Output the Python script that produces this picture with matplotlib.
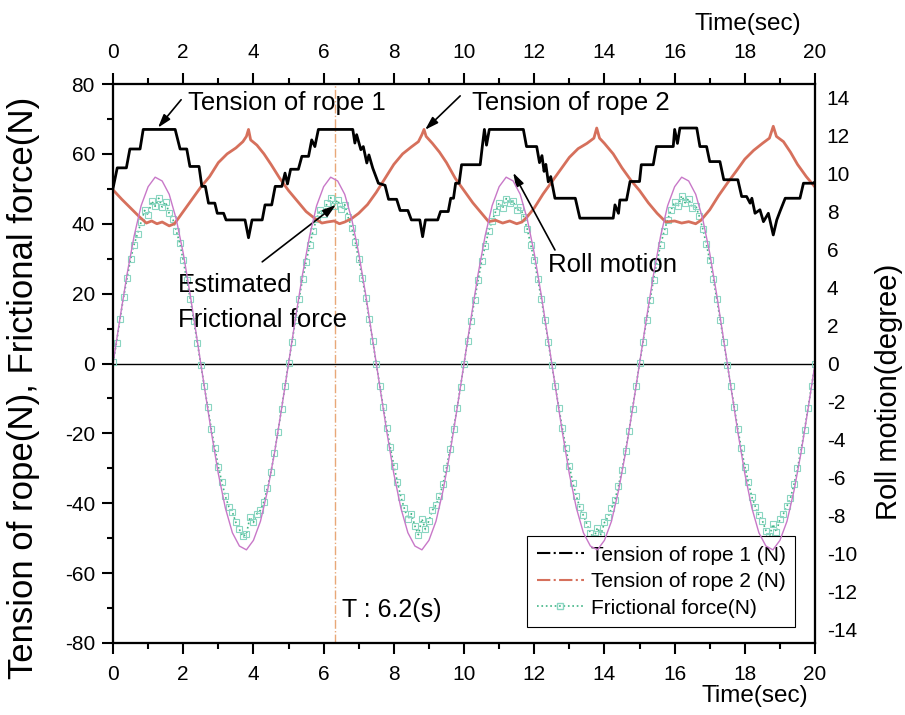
import matplotlib
matplotlib.use("Agg")
import matplotlib.pyplot as plt
from matplotlib.lines import Line2D
from matplotlib.ticker import MultipleLocator

plt.rcParams['font.family'] = ['Liberation Sans', 'DejaVu Sans']
plt.rcParams['axes.unicode_minus'] = False

# Tension of rope 1 (N) - stepped signal, breakpoints
t_rope1 = [0.00, 0.12, 0.38, 0.48, 0.77, 0.86, 1.77, 1.91, 2.10, 2.19, 2.45, 2.53, 2.63, 2.72, 2.90,
           2.97, 3.15, 3.22, 3.76, 3.86, 3.96, 4.25, 4.33, 4.52, 4.62, 4.81, 4.90, 4.97, 5.06, 5.28,
           5.38, 5.57, 5.66, 5.75, 5.85,
           6.83, 6.89, 6.94, 7.06, 7.13, 7.23, 7.29, 7.40, 7.56, 7.75, 7.85, 8.08, 8.18, 8.40, 8.50,
           8.74, 8.82, 8.90, 9.25, 9.33, 9.55, 9.62, 9.70, 9.76, 9.86, 9.93, 10.46, 10.52, 10.58,
           10.64, 10.72,
           11.69, 11.78, 12.07, 12.15, 12.22, 12.28, 12.33, 12.40, 12.47, 12.59, 13.17, 13.30, 14.25,
           14.30, 14.40, 14.44, 14.63, 14.73, 15.00, 15.05, 15.39, 15.48, 15.96, 16.00, 16.08, 16.15,
           16.63, 16.72, 16.91, 17.00, 17.29, 17.40, 17.80, 17.91, 18.05, 18.15, 18.20, 18.29, 18.43,
           18.53, 18.67, 18.81, 18.91, 19.00, 19.15, 19.57, 19.67, 19.95, 20.00]
rope1 = [50.2, 56.0, 56.0, 61.4, 61.4, 67.0, 67.0, 61.4, 61.4, 56.4, 56.4, 50.7, 50.7, 45.9, 45.9,
         43.0, 43.0, 41.1, 41.1, 36.0, 41.1, 41.1, 45.4, 45.4, 50.7, 50.7, 54.5, 51.4, 55.6, 55.6,
         59.3, 59.3, 64.0, 62.1, 67.0,
         67.0, 63.1, 65.5, 61.2, 62.1, 57.4, 59.7, 55.9, 51.6, 51.0, 47.0, 47.0, 43.8, 43.8, 41.1,
         41.1, 36.3, 41.1, 41.1, 43.5, 43.5, 47.3, 47.3, 51.6, 51.6, 56.9, 56.9, 62.1, 67.0,
         62.5, 67.0,
         67.0, 62.1, 62.1, 57.5, 59.5, 55.0, 57.0, 52.0, 53.5, 47.3, 47.3, 41.6, 41.6,
         45.4, 43.0, 46.8, 46.8, 52.1, 52.1, 56.9, 56.9, 62.1, 62.1, 67.0, 63.0, 67.4,
         67.4, 62.1, 62.1, 57.8, 57.8, 52.6, 52.6, 47.8, 47.8, 45.9, 47.3, 43.0, 44.0,
         40.6, 43.0, 36.8, 41.1, 43.5, 47.3, 47.3, 51.6, 51.6, 52.0]

# Tension of rope 2 (N)
t_rope2 = [0.0, 0.25, 0.5, 0.75, 0.95, 1.1, 1.25, 1.4, 1.6, 1.75, 2.0, 2.25, 2.5, 2.75, 3.0, 3.25,
           3.5, 3.7, 3.8, 3.86, 3.92, 4.1, 4.3, 4.5, 4.75, 5.0, 5.25, 5.5, 5.75, 5.95, 6.1, 6.3,
           6.45, 6.6, 6.8, 7.0, 7.25, 7.5, 7.75, 8.0, 8.25, 8.5, 8.7, 8.8, 8.86, 8.92, 9.1, 9.3,
           9.5, 9.75, 10.0, 10.25, 10.5, 10.7, 10.9, 11.1, 11.3, 11.5, 11.65, 11.8, 12.0, 12.25,
           12.5, 12.75, 13.0, 13.25, 13.5, 13.7, 13.78, 13.86, 14.0, 14.25, 14.5, 14.75, 15.0,
           15.25, 15.5, 15.75, 16.0, 16.2, 16.4, 16.6, 16.75, 17.0, 17.25, 17.5, 17.75, 18.0,
           18.25, 18.5, 18.7, 18.81, 18.9, 19.1, 19.3, 19.5, 19.75, 20.0]
rope2 = [49.7, 47.0, 44.5, 42.0, 40.2, 40.8, 40.0, 40.5, 39.4, 40.0, 43.5, 47.0, 50.5, 53.5, 57.5, 60.0,
         61.7, 63.5, 65.0, 67.0, 64.0, 62.5, 60.0, 57.0, 53.0, 49.5, 46.5, 43.5, 41.5, 40.2, 40.5, 40.8,
         40.0, 40.5, 41.5, 43.0, 45.5, 49.0, 53.0, 57.0, 60.0, 62.0, 63.5, 65.5, 67.0, 65.0, 63.0, 60.5,
         57.5, 53.0, 49.5, 46.0, 43.0, 40.6, 41.0, 40.2, 40.8, 40.0, 40.5, 42.0, 44.5, 48.5,
         52.0, 55.5, 59.0, 61.5, 63.0, 64.5, 67.4, 64.5, 63.0, 60.0, 56.0, 52.5, 49.5,
         46.0, 43.0, 40.5, 40.8, 40.2, 40.6, 40.0, 41.0, 44.0, 48.0, 51.6, 55.0, 58.5,
         61.0, 63.0, 64.5, 67.9, 65.0, 63.5, 60.5, 57.0, 53.5, 50.5]

# Frictional force (N), sampled every 0.1 s
t_fric = [i / 10 for i in range(201)]
fric = [0.3, 6.0, 12.8, 18.9, 24.5, 29.8, 34.0, 37.2, 40.5, 43.8, 42.5, 46.5, 45.0, 47.3, 44.8, 46.2,
        43.0, 41.5, 38.0, 34.5, 29.5, 24.0, 18.5, 12.2, 6.0,
        -0.3, -6.5, -12.5, -18.8, -24.2, -29.5, -34.0, -38.0, -41.0, -42.5, -45.5, -47.5, -49.5, -48.8,
        -44.0, -45.5, -43.0, -42.0, -39.5, -35.5, -31.0, -25.5, -19.5, -13.0, -6.5,
        0.2, 6.2, 12.5, 18.5, 24.2, 29.0, 33.8, 38.0, 41.5, 44.0, 42.8, 46.0, 47.5, 45.2, 46.8, 44.2,
        45.5, 41.8, 38.8, 34.8, 29.8, 24.5, 18.8, 12.6, 6.4,
        -0.2, -6.3, -12.4, -18.6, -24.0, -29.2, -33.8, -38.2, -41.5, -44.5, -43.0, -46.5, -49.0, -44.5,
        -47.5, -45.0, -42.0, -40.5, -38.0, -34.5, -29.8, -24.6, -18.8, -12.8, -6.6,
        0.0, 6.3, 12.3, 18.2, 23.8, 29.2, 33.5, 37.8, 40.8, 43.5, 46.0, 44.5, 47.2, 45.8, 46.5, 43.8,
        44.8, 42.0, 38.5, 34.0, 29.5, 24.2, 18.6, 12.5, 6.2,
        -0.4, -6.4, -12.6, -18.5, -24.1, -29.3, -34.2, -38.0, -41.2, -43.5, -46.0, -48.5, -50.0, -47.0,
        -49.0, -45.5, -44.0, -41.5, -39.0, -35.0, -30.5, -25.0, -19.2, -12.9, -6.5,
        0.1, 6.1, 12.4, 18.3, 24.0, 29.3, 34.0, 37.8, 41.2, 44.0, 46.2, 45.0, 48.0, 46.0, 47.2, 44.5,
        45.2, 42.2, 38.6, 34.3, 29.6, 24.3, 18.5, 12.4, 6.2,
        -0.3, -6.4, -12.5, -18.7, -24.3, -29.5, -34.0, -38.2, -41.0, -43.5, -45.0, -47.8, -49.5, -46.0,
        -48.2, -44.5, -43.0, -40.8, -38.5, -34.6, -30.0, -24.8, -19.0, -12.7, -6.4, -0.2]

# Roll motion (degree), sampled every 0.2 s
t_roll = [i / 5 for i in range(101)]
roll = [0.0, 2.4, 4.7, 6.7, 8.3, 9.3, 9.8, 9.6, 8.9, 7.6, 5.8, 3.6, 1.2,
        -1.2, -3.6, -5.8, -7.6, -8.9, -9.6, -9.8, -9.3, -8.3, -6.7, -4.7, -2.4,
        0.0, 2.4, 4.7, 6.7, 8.3, 9.3, 9.8, 9.6, 8.9, 7.6, 5.8, 3.6, 1.2,
        -1.2, -3.6, -5.8, -7.6, -8.9, -9.6, -9.8, -9.3, -8.3, -6.7, -4.7, -2.4,
        0.0, 2.4, 4.7, 6.7, 8.3, 9.3, 9.8, 9.6, 8.9, 7.6, 5.8, 3.6, 1.2,
        -1.2, -3.6, -5.8, -7.6, -8.9, -9.6, -9.8, -9.3, -8.3, -6.7, -4.7, -2.4,
        0.0, 2.4, 4.7, 6.7, 8.3, 9.3, 9.8, 9.6, 8.9, 7.6, 5.8, 3.6, 1.2,
        -1.2, -3.6, -5.8, -7.6, -8.9, -9.6, -9.8, -9.3, -8.3, -6.7, -4.7, -2.4, 0.0]

t_mark = 6.32

red = '#d6705c'
green = '#3fb585'
green_sq = '#8ad6c2'
magenta = '#c878c8'
orange = '#e8a878'

fig = plt.figure(figsize=(9.05, 7.15), dpi=100)
ax = fig.add_axes([0.1249, 0.1007, 0.7757, 0.7818])

ax.axhline(0, color='k', lw=1)
ax.axvline(t_mark, color=orange, ls='-.', lw=1)
ax.plot(t_fric, fric, color=green, ls=':', lw=1.2, marker='s', ms=5,
        mfc='none', mec=green_sq, mew=0.8)
ax.plot(t_rope2, rope2, color=red, lw=2)
ax.plot(t_rope1, rope1, color='k', lw=2)

ax.set_xlim(0, 20)
ax.set_ylim(-80, 80)
ax.xaxis.set_major_locator(MultipleLocator(2))
ax.xaxis.set_minor_locator(MultipleLocator(1))
ax.yaxis.set_major_locator(MultipleLocator(20))
ax.yaxis.set_minor_locator(MultipleLocator(10))
ax.tick_params(which='major', direction='out', length=8, width=1.5, labelsize=15)
ax.tick_params(axis='x', pad=8)
ax.tick_params(axis='y', pad=5)
ax.tick_params(which='minor', direction='out', length=4.3, width=1.5)
ax.set_xlabel('Time(sec)', fontsize=17.5, ha='right')
ax.xaxis.set_label_coords(0.99, -0.075)
ax.set_ylabel('Tension of rope(N), Frictional force(N)', fontsize=25)
ax.yaxis.set_label_coords(-0.104, 0.456)

# right axis: roll motion
ax2 = ax.twinx()
ax2.plot(t_roll, roll, color=magenta, lw=1)
ax2.set_ylim(-14.7, 14.7)
ax2.set_yticks(range(-14, 15, 2))
ax2.tick_params(axis='y', length=0, labelsize=15, pad=8.5)
ax2.set_ylabel('Roll motion(degree)', fontsize=21)
ax2.yaxis.set_label_coords(1.085, 0.449)

# top axis: same time scale
ax3 = ax.twiny()
ax3.set_xlim(0, 20)
ax3.xaxis.set_major_locator(MultipleLocator(2))
ax3.xaxis.set_minor_locator(MultipleLocator(1))
ax3.tick_params(which='major', direction='out', length=8, width=1.5, labelsize=15, pad=8)
ax3.tick_params(which='minor', direction='out', length=4.3, width=1.5)
ax3.set_xlabel('Time(sec)', fontsize=17.5, ha='right')
ax3.xaxis.set_label_coords(0.98, 1.097)

for a in (ax, ax2, ax3):
    for s in a.spines.values():
        s.set_linewidth(1.5)

arrow = dict(arrowstyle='-|>,head_length=0.8,head_width=0.25', color='k', lw=1.2,
             shrinkA=0, shrinkB=0)
ax.annotate('', xy=(1.28, 67.5), xytext=(1.94, 75.5), arrowprops=arrow)
ax.annotate('', xy=(8.89, 66.9), xytext=(9.89, 76.6), arrowprops=arrow)
ax.annotate('', xy=(11.4, 54.6), xytext=(12.59, 32.5), arrowprops=arrow)
ax.annotate('', xy=(6.35, 45.4), xytext=(4.25, 29.1), arrowprops=arrow)
ax.text(2.13, 74.6, 'Tension of rope 1', fontsize=18.5, va='center')
ax.text(10.23, 74.6, 'Tension of rope 2', fontsize=18.5, va='center')
ax.text(12.39, 28.2, 'Roll motion', fontsize=18.5, va='center')
ax.text(1.85, 22.5, 'Estimated', fontsize=18.5, va='center')
ax.text(1.85, 12.5, 'Frictional force', fontsize=18.5, va='center')
ax.text(6.52, -70.6, 'T : 6.2(s)', fontsize=18, va='center')

handles = [Line2D([], [], color='k', ls='-.', lw=1.5),
           Line2D([], [], color=red, ls='-.', lw=1.5),
           Line2D([], [], color=green, ls=':', lw=1.2, marker='s', ms=5, mfc='none', mec=green_sq)]
labels = ['Tension of rope 1 (N)', 'Tension of rope 2 (N)', 'Frictional force(N)']
leg = ax.legend(handles, labels, loc='lower right', bbox_to_anchor=(0.9715, 0.0286), fontsize=15,
                frameon=True, fancybox=False, edgecolor='k', framealpha=1, handlelength=2.26,
                handletextpad=0.34, labelspacing=0.36, borderpad=0.45, borderaxespad=0)
leg.get_frame().set_linewidth(0.8)

fig.savefig('out.png', dpi=100)
